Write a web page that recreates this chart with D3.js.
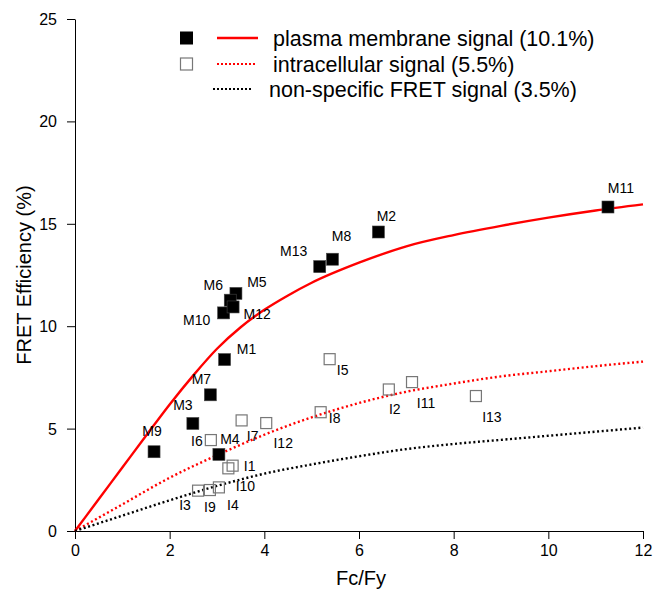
<html>
  <head>
    <meta charset="utf-8" />
    <title>FRET efficiency</title>
    <script src="https://cdn.jsdelivr.net/npm/d3@7"></script>
    <style>
      html,
      body {
        margin: 0;
        padding: 0;
        background: #fff;
        overflow: hidden;
      }
      svg {
        display: block;
      }
      svg text {
        font-family: Arial, "Liberation Sans", sans-serif;
        fill: #000;
      }
    </style>
  </head>
  <body>
    <svg width="655" height="595" id="mainsvg"></svg>
    <script>
      // plasma membrane points (filled squares)
      const mNames = ["M1", "M2", "M3", "M4", "M5", "M6", "M7", "M8", "M9", "M10", "M11", "M12", "M13"];
      const mX = [3.16, 6.41, 2.49, 3.04, 3.4, 3.28, 2.86, 5.44, 1.67, 3.14, 11.26, 3.34, 5.17];
      const mY = [8.37, 14.6, 5.25, 3.74, 11.6, 11.27, 6.65, 13.27, 3.87, 10.65, 15.82, 10.94, 12.91];

      // intracellular points (open squares)
      const iNames = ["I1", "I2", "I3", "I4", "I5", "I6", "I7", "I8", "I9", "I10", "I11", "I12", "I13"];
      const iX = [3.33, 6.63, 2.6, 3.04, 5.38, 2.87, 3.52, 5.19, 2.85, 3.24, 7.12, 4.04, 8.47];
      const iY = [3.19, 6.91, 1.97, 2.13, 8.39, 4.44, 5.4, 5.8, 2.0, 3.06, 7.27, 5.27, 6.59];

      // fitted curves
      const pmX = [0, 0.5, 1, 1.5, 2, 2.5, 3, 3.5, 4, 4.5, 5, 6, 7, 8, 9, 10, 11, 12];
      const pmY = [0, 1.55, 3.1, 4.65, 6.18, 7.6, 8.9, 9.95, 10.8, 11.5, 12.12, 13.1, 13.9, 14.45, 14.9, 15.3, 15.65, 15.95];
      const fitX = [0, 1, 2, 3, 4, 5, 6, 7, 8, 9, 10, 11, 12];
      const icY = [0, 1.3, 2.6, 3.7, 4.7, 5.55, 6.25, 6.8, 7.2, 7.55, 7.8, 8.05, 8.27];
      const nsY = [0, 0.75, 1.5, 2.2, 2.8, 3.25, 3.65, 4.0, 4.25, 4.45, 4.65, 4.85, 5.05];

      const xTicks = [0, 2, 4, 6, 8, 10, 12];
      const yTicks = [0, 5, 10, 15, 20, 25];
      const legendItems = [
        "plasma membrane signal (10.1%)",
        "intracellular signal (5.5%)",
        "non-specific FRET signal (3.5%)",
      ];

      // label offsets from the marker (px)
      const labelOff = {
        M1: [22, -11], M2: [8, -16], M3: [-10, -18], M4: [11, -15], M5: [21, -11],
        M6: [-17, -15], M7: [-9, -16], M8: [9, -23], M9: [-2, -21], M10: [-27, 7],
        M11: [13, -19], M12: [24, 7], M13: [-26, -16],
        I1: [17, 0], I2: [6, 20], I3: [-13, 14], I4: [14, 18], I5: [13, 11],
        I6: [-14, 1], I7: [11, 16], I8: [14, 6], I9: [0, 17], I10: [17, 18],
        I11: [14, 21], I12: [17, 20], I13: [16, 21],
      };

      const svg = d3.select("svg");
      const margin = { top: 19, right: 12, bottom: 64, left: 75 };
      const width = +svg.attr("width");
      const height = +svg.attr("height");
      const innerWidth = width - margin.left - margin.right;
      const innerHeight = height - margin.top - margin.bottom;
      const g = svg.append("g").attr("transform", `translate(${margin.left}, ${margin.top})`);

      const xScale = d3.scaleLinear().domain([0, 12]).range([0, innerWidth]);
      const yScale = d3.scaleLinear().domain([0, 25]).range([innerHeight, 0]);

      // axes
      const xAxis = g
        .append("g")
        .attr("transform", `translate(0, ${innerHeight})`)
        .call(d3.axisBottom(xScale).tickValues(xTicks).tickSize(8).tickSizeOuter(0));
      const yAxis = g
        .append("g")
        .call(d3.axisLeft(yScale).tickValues(yTicks).tickSize(8).tickSizeOuter(0));
      [xAxis, yAxis].forEach((a) => {
        a.attr("font-size", 16).attr("font-family", "Arial, 'Liberation Sans', sans-serif");
        a.selectAll("line,path").attr("stroke", "#000");
      });
      // plain baselines for the tick texts
      xAxis.selectAll(".tick text").attr("dy", null).attr("y", 25);
      yAxis.selectAll(".tick text").attr("dy", null).attr("x", -18).attr("y", 5.5);

      svg
        .append("text")
        .attr("x", margin.left + innerWidth / 2 + 2)
        .attr("y", 585)
        .attr("text-anchor", "middle")
        .attr("font-size", 20)
        .text("Fc/Fy");
      svg
        .append("text")
        .attr("transform", "translate(31, 275) rotate(-90)")
        .attr("text-anchor", "middle")
        .attr("font-size", 20)
        .text("FRET Efficiency (%)");

      // curves
      const line = d3
        .line()
        .x((d) => xScale(d[0]))
        .y((d) => yScale(d[1]))
        .curve(d3.curveMonotoneX);
      const curves = [
        { pts: d3.zip(pmX, pmY), color: "#ff0000", dash: null },
        { pts: d3.zip(fitX, icY), color: "#ff0000", dash: "2,2.6" },
        { pts: d3.zip(fitX, nsY), color: "#000", dash: "2,2.6" },
      ];
      g.selectAll(".fit")
        .data(curves)
        .join("path")
        .attr("class", "fit")
        .attr("d", (d) => line(d.pts))
        .attr("fill", "none")
        .attr("stroke", (d) => d.color)
        .attr("stroke-width", 2.4)
        .attr("stroke-dasharray", (d) => d.dash);

      // points
      const mData = mNames.map((n, i) => ({ name: n, x: mX[i], y: mY[i] }));
      const iData = iNames.map((n, i) => ({ name: n, x: iX[i], y: iY[i] }));
      const s = 12;

      g.selectAll(".ipt")
        .data(iData)
        .join("rect")
        .attr("class", "ipt")
        .attr("x", (d) => xScale(d.x) - s / 2 + 0.5)
        .attr("y", (d) => yScale(d.y) - s / 2 + 0.5)
        .attr("width", s - 1)
        .attr("height", s - 1)
        .attr("fill", "none")
        .attr("stroke", "#777")
        .attr("stroke-width", 1.2);

      g.selectAll(".mpt")
        .data(mData)
        .join("rect")
        .attr("class", "mpt")
        .attr("x", (d) => xScale(d.x) - s / 2)
        .attr("y", (d) => yScale(d.y) - s / 2)
        .attr("width", s)
        .attr("height", s)
        .attr("fill", "#000")
        .attr("stroke", "#444")
        .attr("stroke-width", 0.6);

      g.selectAll(".plabel")
        .data(mData.concat(iData))
        .join("text")
        .attr("class", "plabel")
        .attr("x", (d) => xScale(d.x) + labelOff[d.name][0])
        .attr("y", (d) => yScale(d.y) + labelOff[d.name][1] + 5)
        .attr("text-anchor", "middle")
        .attr("font-size", 14)
        .text((d) => d.name);

      // legend
      const leg = svg.append("g");
      const rowY = [38, 64, 89];
      leg.append("rect").attr("x", 180).attr("y", rowY[0] - 6.5).attr("width", 13).attr("height", 13).attr("fill", "#000");
      leg.append("rect").attr("x", 180.5).attr("y", rowY[1] - 6).attr("width", 12).attr("height", 12)
        .attr("fill", "none").attr("stroke", "#777").attr("stroke-width", 1.2);
      leg.append("line").attr("x1", 217).attr("x2", 258).attr("y1", rowY[0]).attr("y2", rowY[0])
        .attr("stroke", "#ff0000").attr("stroke-width", 2.4);
      leg.append("line").attr("x1", 217).attr("x2", 256).attr("y1", rowY[1]).attr("y2", rowY[1])
        .attr("stroke", "#ff0000").attr("stroke-width", 2).attr("stroke-dasharray", "2,2");
      leg.append("line").attr("x1", 213).attr("x2", 252).attr("y1", rowY[2]).attr("y2", rowY[2])
        .attr("stroke", "#000").attr("stroke-width", 2).attr("stroke-dasharray", "2,2");
      leg.selectAll(".legtext")
        .data(legendItems)
        .join("text")
        .attr("class", "legtext")
        .attr("x", (d, i) => (i === 2 ? 269 : 273))
        .attr("y", (d, i) => rowY[i] + 7.5)
        .attr("font-size", 21.5)
        .text((d) => d);
    </script>
  </body>
</html>
